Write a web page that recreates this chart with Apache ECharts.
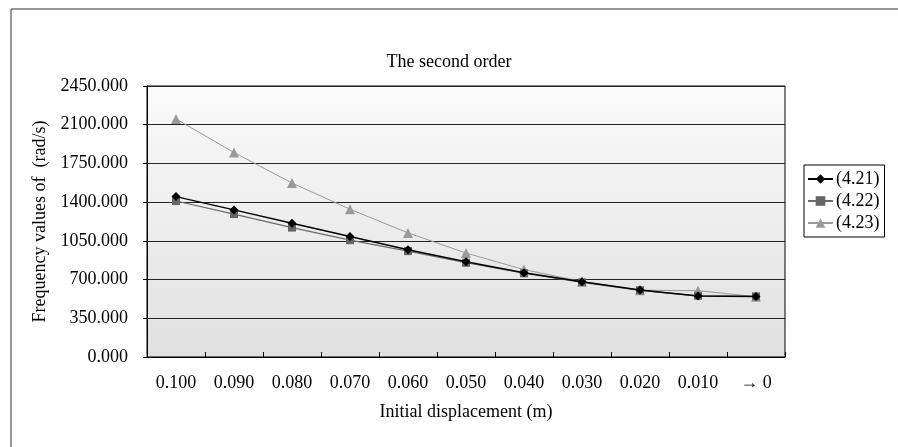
<!DOCTYPE html>
<html>
<head>
<meta charset="utf-8">
<script src="https://cdn.jsdelivr.net/npm/echarts@6/dist/echarts.min.js"></script>
<style>
html,body{margin:0;padding:0;background:#fff;}
#c{width:898px;height:447px;}
</style>
</head>
<body>
<div id="c"></div>
<script>
const categories = ['0.100','0.090','0.080','0.070','0.060','0.050','0.040','0.030','0.020','0.010','→ 0'];
const yTicks = [0, 350, 700, 1050, 1400, 1750, 2100, 2450];
const s421 = [1450, 1330, 1210, 1090, 970, 862, 762, 680, 606, 552, 548];
const s422 = [1410, 1292, 1170, 1056, 957, 852, 757, 675, 603, 553, 548];
const s423 = [2152, 1849, 1573, 1336, 1122, 940, 790, 682, 604, 600, 545];
const seriesNames = ['(4.21)', '(4.22)', '(4.23)'];

const FONT = 'Liberation Serif';
const chart = echarts.init(document.getElementById('c'));
chart.setOption({
  animation: false,
  backgroundColor: '#fff',
  textStyle: { fontFamily: FONT, color: '#000' },
  graphic: [{
    type: 'rect', silent: true, z: 100,
    shape: { x: 11, y: 9, width: 1000, height: 1000 },
    style: { fill: 'none', stroke: '#333', lineWidth: 1 }
  }],
  title: {
    text: 'The second order', left: 'center', top: 48,
    textStyle: { fontFamily: FONT, fontSize: 18, fontWeight: 'normal', color: '#000' }
  },
  legend: {
    orient: 'vertical', left: 804, top: 165,
    data: seriesNames,
    itemWidth: 25, itemHeight: 12, itemGap: 4,
    padding: [5, 5, 5, 3],
    borderColor: '#000', borderWidth: 1,
    textStyle: { fontFamily: FONT, fontSize: 18, lineHeight: 18, color: '#000', padding: [0, 0, 0, -2] }
  },
  grid: {
    left: 147, right: 113, top: 86, bottom: 90,
    show: true, borderColor: '#000', borderWidth: 1,
    backgroundColor: new echarts.graphic.LinearGradient(0, 0, 0, 1, [
      { offset: 0, color: '#fafafa' }, { offset: 1, color: '#e0e0e0' }
    ])
  },
  xAxis: {
    type: 'category', data: categories, boundaryGap: true,
    name: 'Initial displacement (m)', nameLocation: 'middle', nameGap: 46,
    nameTextStyle: { fontFamily: FONT, fontSize: 18, color: '#000' },
    axisLine: { lineStyle: { color: '#000', width: 1 } },
    axisTick: { show: true, inside: true, length: 5, alignWithLabel: false, lineStyle: { color: '#000' } },
    axisLabel: { fontFamily: FONT, fontSize: 18, color: '#000', margin: 17 },
    splitLine: { show: false }
  },
  yAxis: {
    type: 'value', min: yTicks[0], max: yTicks[yTicks.length - 1], interval: 350,
    name: 'Frequency values of  (rad/s)', nameLocation: 'middle', nameGap: 96,
    nameTextStyle: { fontFamily: FONT, fontSize: 18, color: '#000' },
    axisLine: { show: true, lineStyle: { color: '#000', width: 1 } },
    axisTick: { show: true, inside: false, length: 4, lineStyle: { color: '#000' } },
    axisLabel: { fontFamily: FONT, fontSize: 18, color: '#000', margin: 19,
      formatter: v => v.toFixed(3) },
    splitLine: { show: true, lineStyle: { color: '#222', width: 1 } }
  },
  series: [
    { name: seriesNames[0], type: 'line', data: s421, symbol: 'diamond', symbolSize: 9,
      itemStyle: { color: '#000' }, lineStyle: { color: '#000', width: 1.5 }, z: 4 },
    { name: seriesNames[1], type: 'line', data: s422, symbol: 'rect', symbolSize: 8,
      itemStyle: { color: '#666' }, lineStyle: { color: '#6a6a6a', width: 1.2 }, z: 3 },
    { name: seriesNames[2], type: 'line', data: s423, symbol: 'triangle', symbolSize: 10,
      itemStyle: { color: '#9a9a9a' }, lineStyle: { color: '#9a9a9a', width: 1 }, z: 2 }
  ]
});
</script>
</body>
</html>
